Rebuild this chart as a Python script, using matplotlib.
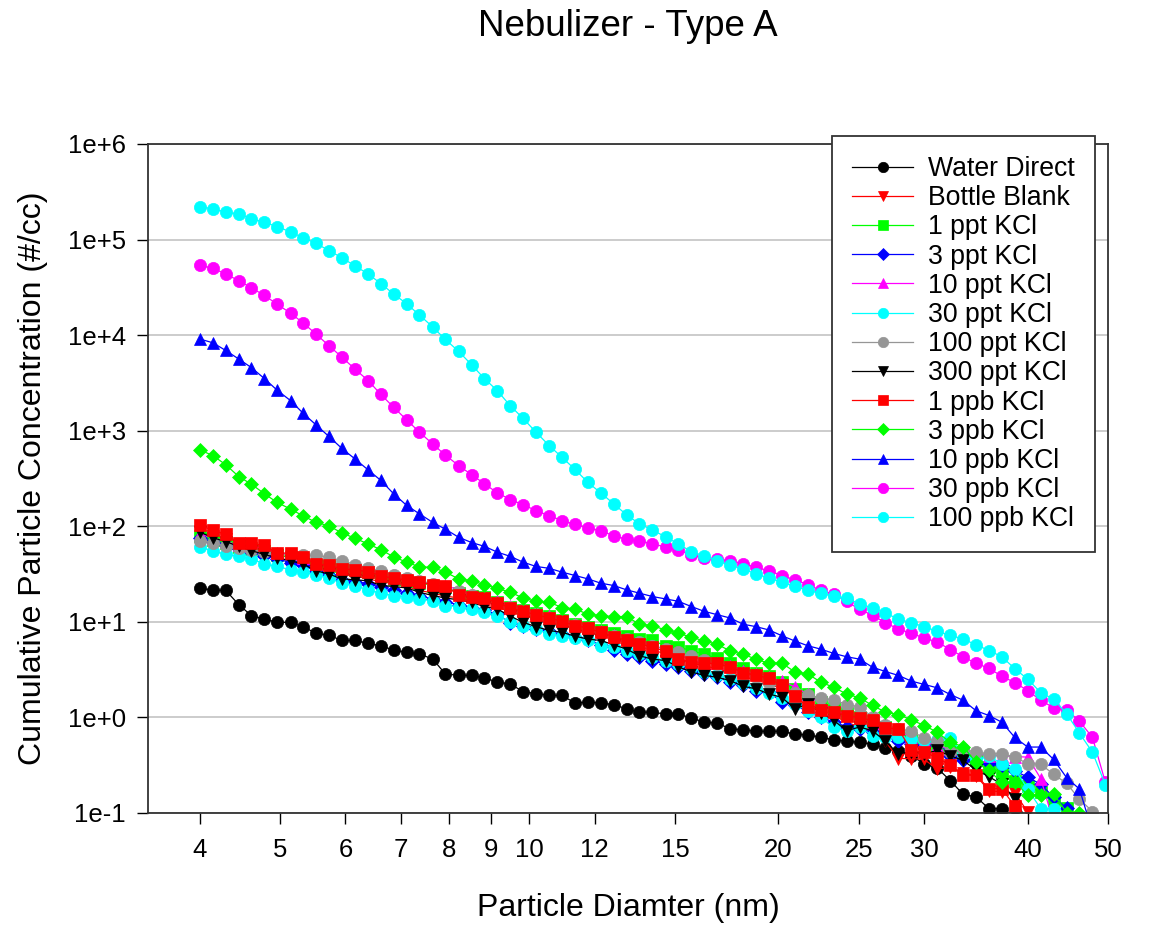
import matplotlib
matplotlib.use("Agg")
import matplotlib.pyplot as plt
from matplotlib.ticker import FixedLocator, FixedFormatter, NullLocator

plt.rcParams['font.family'] = ['Liberation Sans', 'DejaVu Sans']

# SMPS channel mid-point diameters (nm), 64 channels per decade
diameter_nm = [4.00, 4.15, 4.30, 4.46, 4.62, 4.79, 4.96, 5.15, 5.33, 5.53,
               5.73, 5.94, 6.16, 6.39, 6.62, 6.86, 7.11, 7.37, 7.65, 7.92,
               8.22, 8.52, 8.83, 9.15, 9.49, 9.83, 10.19, 10.57, 10.96, 11.36,
               11.77, 12.20, 12.65, 13.11, 13.59, 14.09, 14.61, 15.14, 15.70, 16.27,
               16.87, 17.49, 18.13, 18.79, 19.48, 20.19, 20.93, 21.70, 22.49, 23.32,
               24.17, 25.06, 25.98, 26.93, 27.91, 28.94, 30.00, 31.10, 32.24, 33.42,
               34.64, 35.91, 37.22, 38.59, 40.00, 41.47, 42.99, 44.56, 46.19, 47.89,
               49.64]

# Cumulative concentrations, stored as log10(#/cc) per channel
water_direct = [1.355, 1.33, 1.33, 1.18, 1.065, 1.03, 0.995, 0.995, 0.95, 0.88,
                0.86, 0.805, 0.805, 0.775, 0.75, 0.705, 0.68, 0.665, 0.61, 0.455,
                0.44, 0.44, 0.415, 0.37, 0.35, 0.27, 0.25, 0.23, 0.23, 0.15,
                0.16, 0.15, 0.135, 0.09, 0.055, 0.055, 0.035, 0.035, -0.005, -0.05,
                -0.06, -0.12, -0.13, -0.145, -0.145, -0.145, -0.175, -0.185, -0.205, -0.235,
                -0.25, -0.26, -0.28, -0.32, -0.355, -0.40, -0.485, -0.53, -0.66, -0.805,
                -0.83, -0.955, -0.955, -1.05, -1.1]

bottle_blank = [1.95, 1.90, 1.87, 1.80, 1.77, 1.74, 1.70, 1.67, 1.63, 1.58,
                1.55, 1.50, 1.48, 1.45, 1.42, 1.40, 1.37, 1.33, 1.30, 1.27,
                1.25, 1.22, 1.18, 1.15, 1.11, 1.07, 1.04, 1.00, 0.97, 0.93,
                0.90, 0.86, 0.82, 0.78, 0.74, 0.70, 0.67, 0.62, 0.57, 0.54,
                0.51, 0.47, 0.43, 0.39, 0.35, 0.30, 0.22, 0.15, 0.08, 0.02,
                -0.05, -0.10, -0.15, -0.25, -0.43, -0.43, -0.44, -0.54, -0.52, -0.58,
                -0.61, -0.765, -0.78, -0.79, -0.99, -1.02, -1.2]

kcl_1ppt = [1.90, 1.86, 1.83, 1.78, 1.76, 1.74, 1.70, 1.68, 1.65, 1.60,
            1.58, 1.55, 1.54, 1.52, 1.48, 1.45, 1.43, 1.41, 1.38, 1.36,
            1.30, 1.27, 1.26, 1.21, 1.16, 1.12, 1.09, 1.06, 1.02, 0.98,
            0.95, 0.91, 0.88, 0.855, 0.82, 0.805, 0.75, 0.735, 0.70, 0.66,
            0.62, 0.57, 0.52, 0.47, 0.43, 0.37, 0.30, 0.24, 0.16, 0.10,
            0.05, 0.00, -0.05, -0.10, -0.16, -0.22, -0.27, -0.30, -0.33, -0.38,
            -0.45, -0.52, -0.58, -0.66, -0.72, -0.78, -0.86, -0.95, -1.1]

kcl_3ppt = [1.88, 1.84, 1.80, 1.76, 1.73, 1.69, 1.66, 1.62, 1.59, 1.53,
            1.49, 1.44, 1.42, 1.40, 1.36, 1.33, 1.30, 1.27, 1.24, 1.21,
            1.18, 1.15, 1.12, 1.08, 0.99, 0.96, 0.93, 0.90, 0.87, 0.84,
            0.81, 0.76, 0.71, 0.66, 0.63, 0.595, 0.555, 0.53, 0.485, 0.455,
            0.42, 0.37, 0.335, 0.28, 0.265, 0.16, 0.135, 0.055, 0.005, -0.05,
            -0.095, -0.12, -0.155, -0.20, -0.25, -0.28, -0.30, -0.25, -0.40, -0.45,
            -0.47, -0.48, -0.50, -0.56, -0.625, -0.70, -0.835, -0.95, -1.1]

kcl_10ppt = [1.92, 1.88, 1.84, 1.80, 1.79, 1.77, 1.72, 1.71, 1.67, 1.61,
             1.59, 1.56, 1.55, 1.53, 1.49, 1.46, 1.45, 1.42, 1.40, 1.37,
             1.345, 1.28, 1.26, 1.22, 1.17, 1.13, 1.09, 1.06, 1.02, 0.98,
             0.95, 0.90, 0.86, 0.82, 0.79, 0.75, 0.71, 0.66, 0.60, 0.57,
             0.57, 0.54, 0.49, 0.45, 0.42, 0.38, 0.32, 0.24, 0.15, 0.08,
             0.03, -0.02, -0.06, -0.10, -0.15, -0.20, -0.25, -0.30, -0.33, -0.36,
             -0.38, -0.40, -0.40, -0.41, -0.415, -0.64, -1.1]

kcl_30ppt = [1.78, 1.745, 1.705, 1.685, 1.66, 1.605, 1.58, 1.545, 1.52, 1.495,
             1.46, 1.405, 1.38, 1.335, 1.30, 1.275, 1.26, 1.24, 1.22, 1.17,
             1.16, 1.135, 1.10, 1.065, 1.00, 0.96, 0.925, 0.875, 0.85, 0.83,
             0.805, 0.75, 0.735, 0.70, 0.665, 0.63, 0.595, 0.56, 0.52, 0.48,
             0.44, 0.40, 0.36, 0.31, 0.26, 0.20, 0.14, 0.07, 0.0, -0.10,
             -0.145, -0.10, -0.19, -0.20, -0.21, -0.225, -0.235, -0.235, -0.22, -0.38,
             -0.45, -0.40, -0.49, -0.54, -0.75, -0.955, -0.955, -1.15]

kcl_100ppt = [1.85, 1.83, 1.79, 1.77, 1.75, 1.73, 1.71, 1.70, 1.70, 1.695,
              1.675, 1.64, 1.60, 1.565, 1.53, 1.49, 1.46, 1.43, 1.40, 1.36,
              1.32, 1.28, 1.24, 1.20, 1.16, 1.12, 1.08, 1.04, 1.00, 0.97,
              0.93, 0.89, 0.85, 0.82, 0.79, 0.75, 0.72, 0.68, 0.64, 0.60,
              0.56, 0.52, 0.47, 0.42, 0.36, 0.31, 0.26, 0.23, 0.20, 0.185,
              0.135, 0.11, 0.005, -0.075, -0.12, -0.145, -0.215, -0.245, -0.365, -0.33,
              -0.365, -0.38, -0.38, -0.415, -0.485, -0.49, -0.595, -0.69, -0.855, -0.985]

kcl_300ppt = [1.94, 1.88, 1.84, 1.79, 1.745, 1.705, 1.67, 1.64, 1.605, 1.535,
              1.50, 1.45, 1.44, 1.43, 1.38, 1.37, 1.355, 1.31, 1.275, 1.25,
              1.23, 1.205, 1.16, 1.135, 1.06, 0.995, 0.95, 0.91, 0.89, 0.85,
              0.82, 0.805, 0.76, 0.715, 0.645, 0.61, 0.595, 0.53, 0.475, 0.44,
              0.42, 0.385, 0.325, 0.30, 0.245, 0.21, 0.09, 0.14, 0.05, -0.03,
              -0.14, -0.10, -0.14, -0.25, -0.38, -0.36, -0.38, -0.345, -0.40, -0.45,
              -0.55, -0.62, -0.70, -0.85, -1.1]

kcl_1ppb = [2.01, 1.96, 1.92, 1.82, 1.82, 1.80, 1.72, 1.72, 1.675, 1.605,
            1.59, 1.555, 1.545, 1.525, 1.485, 1.455, 1.44, 1.415, 1.39, 1.37,
            1.285, 1.26, 1.25, 1.20, 1.145, 1.11, 1.075, 1.04, 1.005, 0.96,
            0.935, 0.89, 0.845, 0.805, 0.77, 0.735, 0.69, 0.61, 0.575, 0.565,
            0.565, 0.525, 0.47, 0.44, 0.41, 0.335, 0.225, 0.11, 0.08, 0.055,
            0.02, -0.005, -0.03, -0.11, -0.12, -0.345, -0.365, -0.42, -0.50, -0.605,
            -0.605, -0.745, -0.745, -0.93, -1.1]

kcl_3ppb = [2.80, 2.74, 2.645, 2.52, 2.44, 2.34, 2.25, 2.18, 2.11, 2.04,
            2.005, 1.93, 1.875, 1.815, 1.755, 1.68, 1.625, 1.575, 1.57, 1.52,
            1.45, 1.43, 1.39, 1.35, 1.31, 1.25, 1.215, 1.205, 1.15, 1.135,
            1.08, 1.065, 1.055, 1.055, 0.975, 0.96, 0.915, 0.88, 0.84, 0.80,
            0.765, 0.695, 0.66, 0.61, 0.565, 0.57, 0.475, 0.455, 0.37, 0.315,
            0.245, 0.205, 0.125, 0.055, 0.03, -0.025, -0.085, -0.155, -0.26, -0.305,
            -0.47, -0.555, -0.68, -0.68, -0.81, -0.81, -0.80, -0.995, -0.995]

kcl_10ppb = [3.96, 3.92, 3.84, 3.75, 3.66, 3.545, 3.425, 3.315, 3.185, 3.06,
             2.94, 2.815, 2.705, 2.59, 2.48, 2.34, 2.22, 2.13, 2.04, 1.97,
             1.885, 1.83, 1.79, 1.73, 1.685, 1.625, 1.58, 1.56, 1.52, 1.485,
             1.45, 1.405, 1.38, 1.335, 1.30, 1.265, 1.24, 1.215, 1.16, 1.11,
             1.075, 1.04, 0.975, 0.95, 0.915, 0.855, 0.80, 0.75, 0.715, 0.67,
             0.635, 0.61, 0.525, 0.48, 0.44, 0.38, 0.345, 0.31, 0.24, 0.18,
             0.07, 0.02, -0.05, -0.21, -0.31, -0.31, -0.44, -0.63, -0.75, -1.2]

kcl_30ppb = [4.73, 4.70, 4.64, 4.57, 4.495, 4.415, 4.325, 4.23, 4.13, 4.01,
             3.89, 3.77, 3.645, 3.525, 3.38, 3.245, 3.115, 2.985, 2.86, 2.745,
             2.635, 2.54, 2.445, 2.35, 2.28, 2.225, 2.165, 2.11, 2.06, 2.02,
             1.985, 1.955, 1.90, 1.865, 1.85, 1.815, 1.785, 1.75, 1.70, 1.67,
             1.655, 1.64, 1.61, 1.57, 1.535, 1.485, 1.44, 1.39, 1.33, 1.29,
             1.215, 1.13, 1.07, 0.99, 0.925, 0.88, 0.83, 0.79, 0.71, 0.635,
             0.565, 0.515, 0.43, 0.365, 0.28, 0.18, 0.10, 0.08, -0.04, -0.21,
             -0.68]

kcl_100ppb = [5.345, 5.32, 5.29, 5.265, 5.22, 5.18, 5.136, 5.08, 5.02, 4.96,
              4.885, 4.81, 4.725, 4.64, 4.54, 4.43, 4.33, 4.21, 4.085, 3.955,
              3.83, 3.69, 3.545, 3.42, 3.26, 3.13, 2.985, 2.845, 2.72, 2.595,
              2.46, 2.35, 2.235, 2.12, 2.025, 1.96, 1.89, 1.815, 1.735, 1.69,
              1.64, 1.59, 1.555, 1.50, 1.46, 1.415, 1.37, 1.33, 1.30, 1.27,
              1.245, 1.19, 1.145, 1.09, 1.03, 0.99, 0.95, 0.90, 0.86, 0.82,
              0.76, 0.70, 0.635, 0.51, 0.40, 0.26, 0.19, 0.04, -0.165, -0.365,
              -0.705]

series_labels = ["Water Direct", "Bottle Blank", "1 ppt KCl", "3 ppt KCl",
                 "10 ppt KCl", "30 ppt KCl", "100 ppt KCl", "300 ppt KCl",
                 "1 ppb KCl", "3 ppb KCl", "10 ppb KCl", "30 ppb KCl",
                 "100 ppb KCl"]
series_data = [water_direct, bottle_blank, kcl_1ppt, kcl_3ppt, kcl_10ppt,
               kcl_30ppt, kcl_100ppt, kcl_300ppt, kcl_1ppb, kcl_3ppb,
               kcl_10ppb, kcl_30ppb, kcl_100ppb]
series_colors = ["#000000", "#FF0000", "#00FF00", "#0000FF", "#FF00FF",
                 "#00FFFF", "#969696", "#000000", "#FF0000", "#00FF00",
                 "#0000FF", "#FF00FF", "#00FFFF"]
series_markers = ["o", "v", "s", "D", "^", "o", "o", "v", "s", "D", "^", "o", "o"]
marker_sizes = {"o": 8.8, "v": 9.2, "^": 9.2, "s": 8.2, "D": 7.3}

xtick_values = [4, 5, 6, 7, 8, 9, 10, 12, 15, 20, 25, 30, 40, 50]
ytick_values = [1e-1, 1e0, 1e1, 1e2, 1e3, 1e4, 1e5, 1e6]
ytick_labels = ["1e-1", "1e+0", "1e+1", "1e+2", "1e+3", "1e+4", "1e+5", "1e+6"]

W, H = 1160, 933
fig = plt.figure(figsize=(W / 100, H / 100), dpi=100)
ax = fig.add_axes([148 / W, 1 - 813 / H, (1108 - 148) / W, (813 - 144) / H])

for logs, lab, col, mk in zip(series_data, series_labels, series_colors, series_markers):
    conc = [10 ** v for v in logs]
    ax.plot(diameter_nm[:len(conc)], conc, color=col, lw=0.9, marker=mk,
            ms=marker_sizes[mk], mfc=col, mec=col, mew=0.5, label=lab)

ax.set_xscale("log")
ax.set_yscale("log")
ax.set_xlim(3.465, 50)
ax.set_ylim(1e-1, 1e6)

ax.xaxis.set_major_locator(FixedLocator(xtick_values))
ax.xaxis.set_major_formatter(FixedFormatter([str(v) for v in xtick_values]))
ax.xaxis.set_minor_locator(NullLocator())
ax.yaxis.set_major_locator(FixedLocator(ytick_values))
ax.yaxis.set_major_formatter(FixedFormatter(ytick_labels))
ax.yaxis.set_minor_locator(NullLocator())

ax.tick_params(axis="both", which="major", direction="out", length=8, width=1,
               labelsize=18.5, color="#000000")
ax.tick_params(axis="x", pad=10)
ax.tick_params(axis="y", pad=8)

ax.yaxis.grid(True, color="#c8c8c8", lw=1.3)
ax.set_axisbelow(True)
for sp in ax.spines.values():
    sp.set_color("#333333")
    sp.set_linewidth(1.3)

ax.set_xlabel("Particle Diamter (nm)", fontsize=23, labelpad=22)
ax.set_ylabel("Cumulative Particle Concentration (#/cc)", fontsize=23, labelpad=14)
fig.text(628 / W, 1 - 27 / H, "Nebulizer - Type A", fontsize=26.5,
         ha="center", va="center")

leg = ax.legend(loc="upper left", bbox_to_anchor=(832 / W, 1 - 136 / H),
                bbox_transform=fig.transFigure, borderaxespad=0,
                fontsize=19.2, frameon=True, fancybox=False, framealpha=1,
                edgecolor="#333333", handlelength=2.3, handletextpad=0.55,
                labelspacing=0.12, borderpad=0.75, markerscale=0.85)
leg.get_frame().set_linewidth(1.3)

fig.savefig("out.png", dpi=100)
